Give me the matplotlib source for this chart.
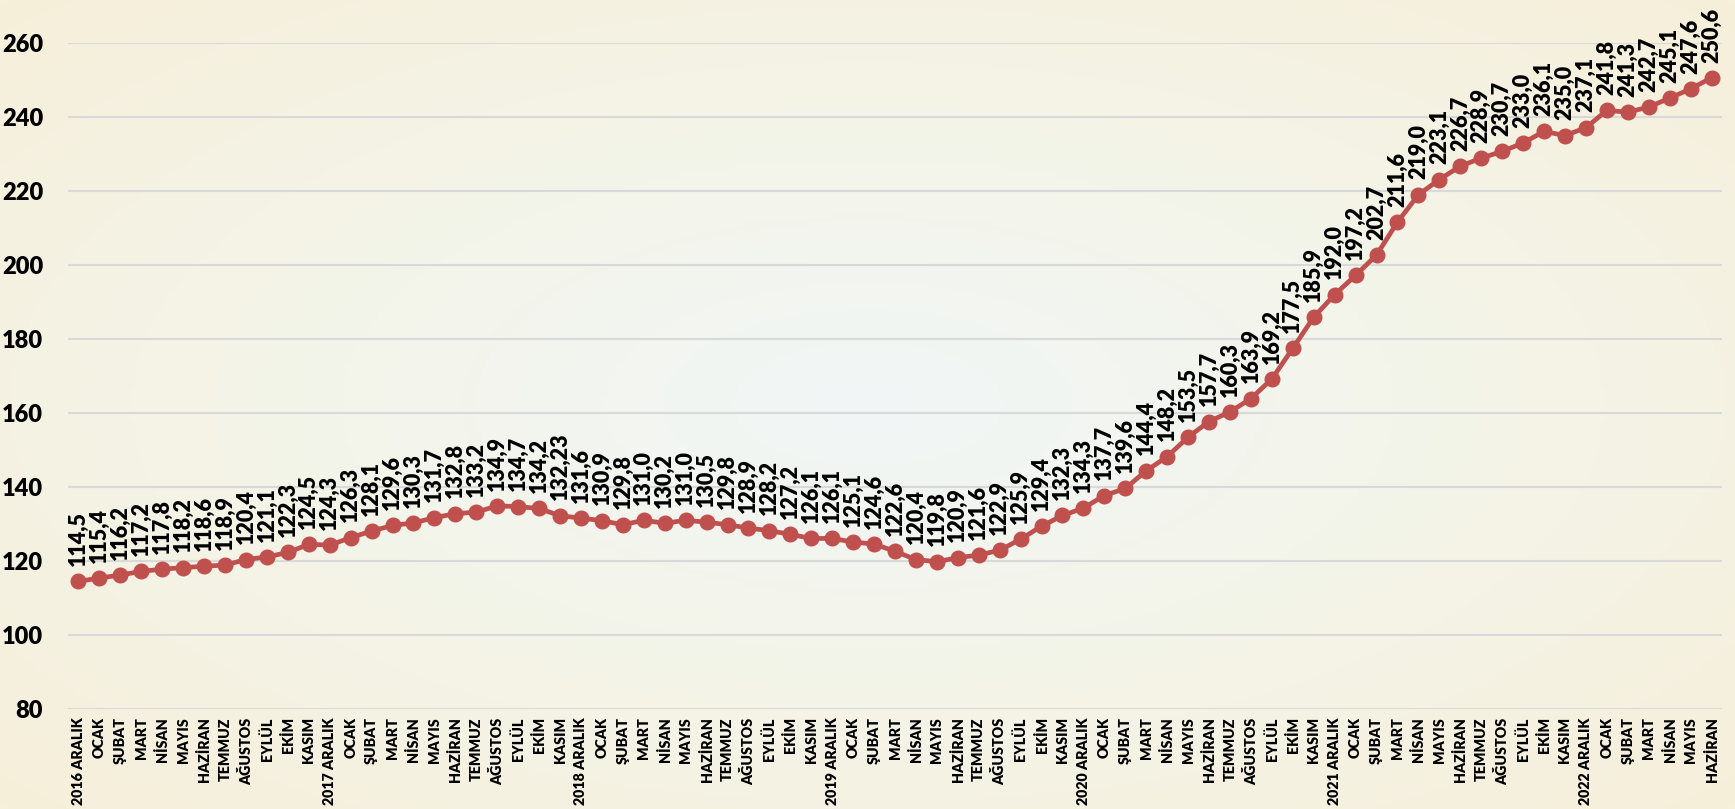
import numpy as np
import matplotlib.pyplot as plt
from matplotlib.colors import LinearSegmentedColormap

# --- dane ---
months = ["ARALIK", "OCAK", "ŞUBAT", "MART", "NİSAN", "MAYIS", "HAZİRAN",
          "TEMMUZ", "AĞUSTOS", "EYLÜL", "EKİM", "KASIM"]
years = ["2016", "2017", "2018", "2019", "2020", "2021", "2022"]

values = [
    114.5, 115.4, 116.2, 117.2, 117.8, 118.2, 118.6, 118.9, 120.4, 121.1, 122.3, 124.5,
    124.3, 126.3, 128.1, 129.6, 130.3, 131.7, 132.8, 133.2, 134.9, 134.7, 134.2, 132.23,
    131.6, 130.9, 129.8, 131.0, 130.2, 131.0, 130.5, 129.8, 128.9, 128.2, 127.2, 126.1,
    126.1, 125.1, 124.6, 122.6, 120.4, 119.8, 120.9, 121.6, 122.9, 125.9, 129.4, 132.3,
    134.3, 137.7, 139.6, 144.4, 148.2, 153.5, 157.7, 160.3, 163.9, 169.2, 177.5, 185.9,
    192.0, 197.2, 202.7, 211.6, 219.0, 223.1, 226.7, 228.9, 230.7, 233.0, 236.1, 235.0,
    237.1, 241.8, 241.3, 242.7, 245.1, 247.6, 250.6,
]

labels = []
for i in range(len(values)):
    m = months[i % 12]
    if m == "ARALIK":
        labels.append(years[i // 12] + " ARALIK")
    else:
        labels.append(m)

plt.rcParams['font.family'] = ['Lato', 'DejaVu Sans']
plt.rcParams['font.weight'] = 'heavy'

W, H = 1735, 809
fig = plt.figure(figsize=(W / 100, H / 100), dpi=100)

# tło - gradient
bg = fig.add_axes([0, 0, 1, 1], zorder=-10)
yy, xx = np.mgrid[-1:1:200j, -1:1:400j]
r = np.sqrt(xx ** 2 + yy ** 2) / np.sqrt(2)
cmap = LinearSegmentedColormap.from_list("bg", ["#F1F6F6", "#F4F4E8", "#F6EFDA"])
bg.imshow(r, cmap=cmap, aspect='auto', extent=[0, 1, 0, 1], vmin=0, vmax=1)
bg.axis('off')

left, right, top, bottom = 68, 1722, 43, 709
ax = fig.add_axes([left / W, 1 - bottom / H, (right - left) / W, (bottom - top) / H])
ax.patch.set_alpha(0)

x = np.arange(len(values))
ax.plot(x, values, color='#C0504D', linewidth=3.4, marker='o', markersize=10.5, zorder=3)

for xi, v in zip(x, values):
    txt = ('%g' % v).replace('.', ',')
    if ',' not in txt:
        txt += ',0'
    ax.annotate(txt, (xi, v), xytext=(0, 11), textcoords='offset points',
                rotation=90, ha='center', va='bottom', fontsize=15.5,
                fontweight='heavy', color='black', annotation_clip=False)

ax.set_xlim(-0.5, len(values) - 0.5)
ax.set_ylim(80, 260)
ax.set_yticks(range(80, 261, 20))
ax.set_xticks(x)
ax.set_xticklabels(labels, rotation=90, fontsize=10.3, fontweight='heavy')
ax.tick_params(axis='y', labelsize=17, length=0, pad=18)
ax.tick_params(axis='x', length=0, pad=6)
for lab in ax.get_yticklabels():
    lab.set_fontweight('heavy')

ax.grid(axis='y', color='#D9D9D9', linewidth=1.5)
ax.set_axisbelow(True)
for s in ax.spines.values():
    s.set_visible(False)

fig.savefig('out.png', dpi=100)
